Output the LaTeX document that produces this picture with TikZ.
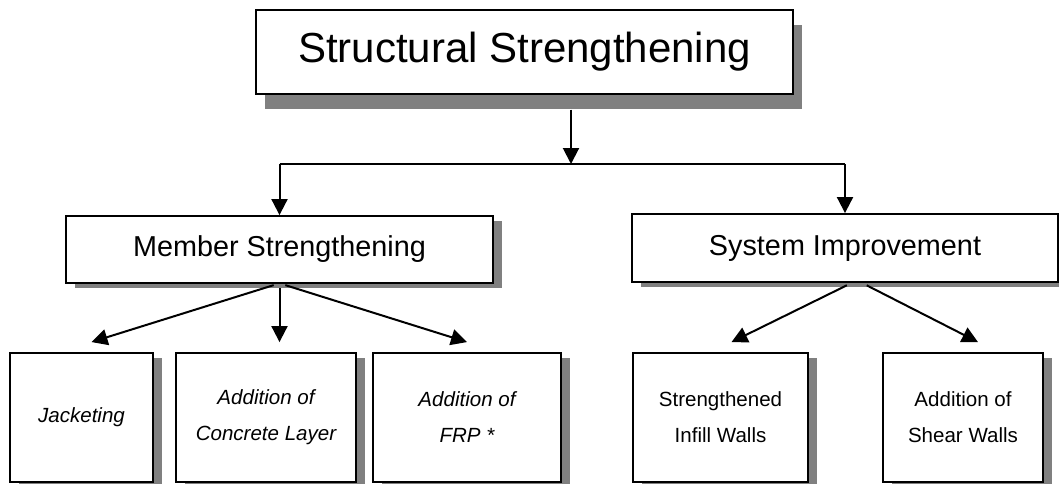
\documentclass[tikz,border=0pt]{standalone}
\usepackage{fontspec}
\setmainfont{Liberation Sans}
\usetikzlibrary{arrows.meta, shadows}

\tikzset{
    box/.style = {draw, line width = 1.4pt, fill = white, align = center, inner sep = 0pt,
        general shadow = {fill = gray, shadow xshift = 6.5pt, shadow yshift = #1}},
    box/.default = -4pt,
    arr/.style = {-{Triangle[length = 12pt, width = 12pt]}, line width = 1.5pt},
    big/.style = {font = \fontsize{31.5}{38}\selectfont},
    mid/.style = {font = \fontsize{21.6}{26}\selectfont},
    small/.style = {font = \fontsize{15.4}{27}\selectfont},
    smallit/.style = {font = \fontsize{15.4}{27}\selectfont\itshape}
}

\begin{document}
\begin{tikzpicture}[x = 0.75pt, y = -0.75pt]
        \useasboundingbox (0, 0) rectangle (1059, 483);

        \node [box = -11.5pt, big, minimum width = 402.75pt, minimum height = 63pt]
            (top) at (524.5, 52) {Structural Strengthening};

        \node [box, mid, minimum width = 320.25pt, minimum height = 50.25pt]
            (member) at (279.5, 249.5) {Member Strengthening};
        \node [box, mid, minimum width = 319.5pt, minimum height = 51pt]
            (system) at (845, 248) {System Improvement};

        \node [box, smallit, minimum width = 107.25pt, minimum height = 96.75pt]
            (jacket) at (81.5, 417.5) {Jacketing};
        \node [box, smallit, minimum width = 135pt, minimum height = 96.75pt]
            (concrete) at (266, 417.5) {Addition of\\Concrete Layer};
        \node [box, smallit, minimum width = 141pt, minimum height = 96.75pt]
            (frp) at (467, 417.5) {Addition of\\FRP *};
        \node [box, small, minimum width = 131.25pt, minimum height = 96.75pt]
            (infill) at (720.5, 417.5) {Strengthened\\Infill Walls};
        \node [box, small, minimum width = 120pt, minimum height = 96.75pt]
            (shear) at (963, 417.5) {Addition of\\Shear Walls};

        \coordinate (split) at (571, 164);

        \draw [arr, shorten <= 11pt]
            (top.south -| split) -- (split)
        ;
        \draw [line width = 1.5pt]
            (member.north |- split) -- (system.north |- split)
        ;
        \draw [arr]
            (member.north |- split) -- (member.north)
        ;
        \draw [arr]
            (system.north |- split) -- (system.north)
        ;

        \draw [arr, shorten <= 3pt]
            ([xshift = -1.5pt]member.south) -- ([shift = {(10, -10)}]jacket.north)
        ;
        \draw [arr, shorten <= 3pt]
            (member.south) -- ([yshift = 7.5pt]member.south |- concrete.north)
        ;
        \draw [arr, shorten <= 3pt]
            ([xshift = 1.5pt]member.south) -- ([yshift = 7.5pt]frp.north)
        ;

        \draw [arr, shorten <= 4pt]
            ([xshift = 5pt]system.south) -- ([shift = {(11, -10)}]infill.north)
        ;
        \draw [arr, shorten <= 4pt]
            ([xshift = 12.75pt]system.south) -- ([shift = {(15, -10)}]shear.north)
        ;
\end{tikzpicture}
\end{document}
